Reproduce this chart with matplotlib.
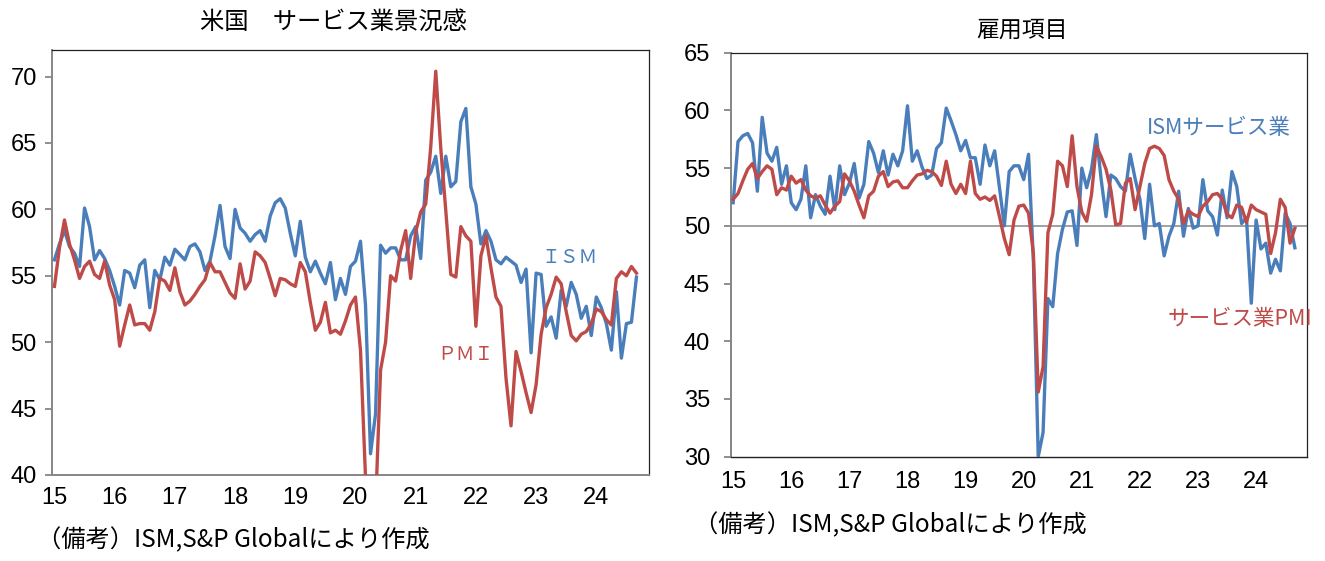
import matplotlib
matplotlib.use("Agg")
import matplotlib.pyplot as plt

plt.rcParams['font.family'] = ['Noto Sans CJK JP', 'DejaVu Sans']
NUMFONT = ['Liberation Sans Narrow', 'Liberation Sans', 'DejaVu Sans']

# monthly, Jan 2015 .. Sep 2024
years = ["15", "16", "17", "18", "19", "20", "21", "22", "23", "24"]
ism = [56.2, 57.4, 58.4, 57.2, 56.7, 55.7, 60.1, 58.7, 56.2, 56.9, 56.3, 55.4,
       54.2, 52.8, 55.4, 55.2, 54.1, 55.8, 56.2, 52.6, 55.4, 54.7, 56.4, 55.8,
       57.0, 56.6, 56.2, 57.2, 57.4, 56.8, 55.4, 56.1, 58.0, 60.3, 57.2, 56.3,
       60.0, 58.6, 58.2, 57.6, 58.1, 58.4, 57.6, 59.5, 60.5, 60.8, 60.1, 58.2,
       56.5, 59.1, 56.4, 55.3, 56.1, 55.2, 54.4, 56.0, 53.2, 54.8, 53.6, 55.7,
       56.1, 57.6, 52.8, 41.6, 44.6, 57.3, 56.7, 57.1, 57.1, 56.2, 56.2, 58.0,
       58.7, 56.3, 62.2, 62.8, 64.0, 61.2, 64.0, 61.7, 62.1, 66.6, 67.6, 61.7,
       60.4, 57.4, 58.4, 57.6, 56.2, 55.9, 56.4, 56.1, 55.8, 54.5, 55.5, 49.2,
       55.2, 55.1, 51.2, 51.9, 50.3, 53.9, 52.7, 54.5, 53.6, 51.8, 52.7, 50.5,
       53.4, 52.6, 51.4, 49.4, 53.8, 48.8, 51.4, 51.5, 54.9]
pmi = [54.2, 57.1, 59.2, 57.4, 56.2, 54.8, 55.7, 56.1, 55.1, 54.8, 56.1, 54.3,
       53.2, 49.7, 51.3, 52.8, 51.3, 51.4, 51.4, 50.9, 52.3, 54.8, 54.6, 53.9,
       55.6, 53.8, 52.8, 53.1, 53.6, 54.2, 54.7, 56.0, 55.3, 55.3, 54.5, 53.7,
       53.3, 55.9, 54.0, 54.6, 56.8, 56.5, 56.0, 54.8, 53.5, 54.8, 54.7, 54.4,
       54.2, 56.0, 55.3, 53.0, 50.9, 51.5, 53.0, 50.7, 50.9, 50.6, 51.6, 52.8,
       53.4, 49.4, 39.8, 26.7, 37.5, 47.9, 50.0, 55.0, 54.6, 56.9, 58.4, 54.8,
       58.3, 59.8, 60.4, 64.7, 70.4, 64.6, 59.9, 55.1, 54.9, 58.7, 58.0, 57.6,
       51.2, 56.5, 58.0, 55.6, 53.4, 52.7, 47.3, 43.7, 49.3, 47.8, 46.2, 44.7,
       46.8, 50.6, 52.6, 53.6, 54.9, 54.4, 52.3, 50.5, 50.1, 50.6, 50.8, 51.4,
       52.5, 52.3, 51.7, 51.3, 54.8, 55.3, 55.0, 55.7, 55.2]
ism_emp = [52.0, 57.3, 57.8, 58.0, 57.2, 53.0, 59.4, 56.3, 55.6, 56.8, 53.6, 55.2,
           52.0, 51.4, 52.3, 55.2, 50.7, 52.7, 51.7, 51.0, 54.3, 51.4, 55.2, 52.7,
           53.7, 55.4, 52.4, 53.6, 57.3, 56.3, 54.6, 56.5, 54.4, 56.2, 55.2, 56.5,
           60.4, 55.6, 56.5, 55.1, 54.1, 54.4, 56.7, 57.2, 60.2, 59.1, 57.9, 56.5,
           57.4, 55.9, 55.9, 53.6, 57.0, 55.2, 56.5, 53.3, 50.0, 54.7, 55.2, 55.2,
           54.0, 56.2, 47.0, 30.0, 32.1, 43.7, 43.0, 47.6, 49.7, 51.2, 51.3, 48.3,
           55.0, 53.3, 54.9, 57.9, 54.0, 50.8, 54.4, 54.1, 53.4, 53.0, 56.2, 54.1,
           52.3, 48.9, 53.6, 50.0, 50.2, 47.4, 49.1, 50.2, 53.0, 49.1, 51.5, 49.8,
           50.0, 54.0, 51.3, 50.8, 49.2, 53.1, 50.7, 54.7, 53.4, 50.2, 50.7, 43.3,
           50.5, 48.0, 48.5, 45.9, 47.1, 46.1, 51.1, 50.2, 48.1]
pmi_emp = [52.3, 52.8, 53.9, 54.9, 55.4, 54.1, 54.7, 55.2, 54.9, 52.7, 53.3, 53.1,
           54.3, 53.7, 54.0, 53.1, 52.6, 52.4, 52.6, 51.8, 51.1, 51.7, 52.1, 54.5,
           53.9, 53.0, 51.8, 50.7, 52.6, 53.0, 54.3, 54.7, 53.4, 53.8, 53.9, 53.3,
           53.3, 53.9, 54.4, 54.5, 54.8, 54.7, 54.3, 53.5, 55.6, 53.6, 52.8, 53.6,
           52.8, 55.6, 52.8, 52.3, 52.5, 52.2, 52.6, 50.8, 48.9, 47.5, 50.5, 51.7,
           51.8, 51.1, 47.6, 35.6, 37.8, 49.4, 51.0, 55.6, 55.2, 53.4, 57.8, 53.4,
           51.2, 50.4, 52.7, 56.9, 56.0, 54.9, 53.1, 50.1, 50.2, 53.7, 54.1, 51.4,
           53.4, 55.4, 56.7, 56.9, 56.7, 56.1, 54.0, 53.0, 52.3, 50.2, 51.3, 51.0,
           50.8, 51.7, 52.1, 52.7, 52.8, 52.3, 51.0, 50.7, 51.8, 51.6, 50.3, 51.8,
           51.4, 51.2, 51.0, 47.6, 49.4, 52.3, 51.6, 48.5, 49.8]

BLUE = "#4A7EBB"
RED = "#BE4B48"
GRAY = "#868686"

fig = plt.figure(figsize=(13.25, 5.61), dpi=100)
ax1 = fig.add_axes([0.0392, 0.1533, 0.4506, 0.7576])
ax2 = fig.add_axes([0.5515, 0.1859, 0.4349, 0.7202])


def style(ax, ylo, yhi, ytop, bottom_col, xpad, ypad):
    ax.set_xlim(-0.5, 118.5)
    ax.set_ylim(ylo, yhi)
    ax.set_xticks(range(0, 120, 12))
    ax.set_xticklabels(years)
    ax.set_yticks(range(ylo, ytop + 1, 5))
    ax.tick_params(axis="x", length=0, pad=xpad)
    ax.tick_params(axis="y", length=5, width=1.3, color=GRAY, pad=ypad)
    for lbl in ax.get_xticklabels() + ax.get_yticklabels():
        lbl.set_fontfamily(NUMFONT)
        lbl.set_fontsize(17)
    ax.spines["left"].set_color(GRAY)
    ax.spines["left"].set_linewidth(1.4)
    ax.spines["bottom"].set_color(bottom_col)
    ax.spines["bottom"].set_linewidth(1.4 if bottom_col == GRAY else 1.0)
    for s in ("top", "right"):
        ax.spines[s].set_color("#222222")
        ax.spines[s].set_linewidth(0.9)


x = list(range(len(ism)))

# left: headline indices
ax1.plot(x, ism, color=BLUE, lw=2.4, zorder=3)
ax1.plot(x, pmi, color=RED, lw=2.4, zorder=3)
style(ax1, 40, 72, 70, GRAY, 9, 6)
ax1.text(102.7, 56.4, "ＩＳＭ", color=BLUE, fontsize=13.5, ha="center", va="center")
ax1.text(82.0, 49.1, "ＰＭＩ", color=RED, fontsize=13.5, ha="center", va="center")

# right: employment
ax2.axhline(50, color="#A0A0A0", lw=1.4, zorder=2)
ax2.plot(x, ism_emp, color=BLUE, lw=2.4, zorder=3)
ax2.plot(x, pmi_emp, color=RED, lw=2.4, zorder=3)
style(ax2, 30, 65, 65, "#222222", 10, 10)
ax2.text(100.3, 58.5, "ISMサービス業", color=BLUE, fontsize=15.5, ha="center", va="center")
ax2.text(104.6, 41.9, "サービス業PMI", color=RED, fontsize=15.5, ha="center", va="center")

fig.text(333 / 1325, 1 - 22 / 561, "米国　サービス業景況感", fontsize=17.5, ha="center", va="center")
fig.text(1022 / 1325, 1 - 30 / 561, "雇用項目", fontsize=16.5, ha="center", va="center")
fig.text(37 / 1325, 1 - 540 / 561, "（備考）ISM,S&P Globalにより作成", fontsize=17.5, ha="left", va="center")
fig.text(694 / 1325, 1 - 525 / 561, "（備考）ISM,S&P Globalにより作成", fontsize=17.5, ha="left", va="center")

fig.savefig("out.png", dpi=100)
